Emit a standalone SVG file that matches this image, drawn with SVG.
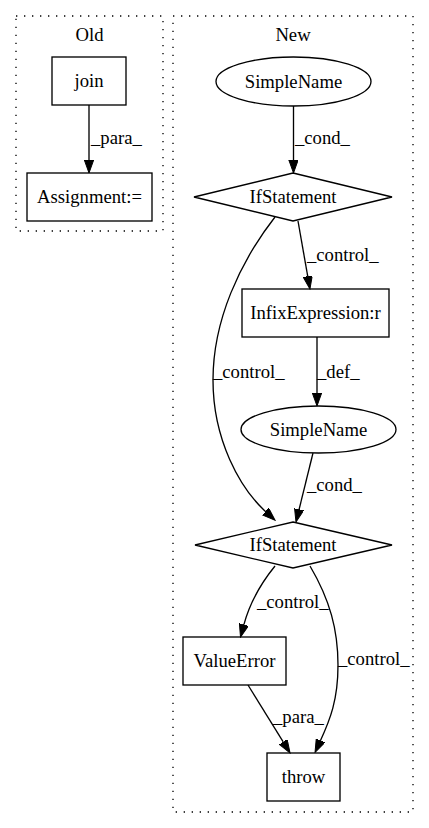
<svg xmlns="http://www.w3.org/2000/svg" width="429" height="828" viewBox="0 0 429 828">
<style>
text{font-family:"Liberation Serif","Times New Roman",serif;font-size:18.67px;fill:#000}
.n{text-anchor:middle}
.shape{fill:none;stroke:#000;stroke-width:1.33}
.cl{fill:none;stroke:#000;stroke-width:1.33;stroke-dasharray:1.33,6.67}
.e{fill:none;stroke:#000;stroke-width:1.33;marker-end:url(#arr)}
</style>
<defs>
<marker id="arr" markerUnits="userSpaceOnUse" markerWidth="14" markerHeight="10" viewBox="0 0 14 10" refX="0" refY="4.67" orient="auto">
<path d="M0,0 L13,4.67 L0,9.33 z" fill="#000" stroke="#000" stroke-width="1"/>
</marker>
</defs>
<rect width="429" height="828" fill="#fff"/>
<g id="cluster_old">
<rect class="cl" x="16" y="16" width="147" height="215"/>
<text class="n" x="89.5" y="41">Old</text>
</g>
<g id="cluster_new">
<rect class="cl" x="173" y="16" width="240" height="796"/>
<text class="n" x="293" y="41">New</text>
</g>
<g id="edges">
<path class="e" d="M89,105 L89,160"/>
<path class="e" d="M293.5,106 L293.5,160"/>
<path class="e" d="M298,221 L307.7,276.2"/>
<path class="e" d="M317,337 L317,393"/>
<path class="e" d="M313,453 L299.1,509.4"/>
<path class="e" d="M275,217 C240,262 213,320 213,380 C213,440 240,488 265.5,511.5"/>
<path class="e" d="M275,566 C262,582 250,602 243.9,624.6"/>
<path class="e" d="M248,685 L283.2,741.9"/>
<path class="e" d="M310,566 C330,600 338,630 338,665 C338,700 330,720 320.5,740.5"/>
<text x="91" y="144">_para_</text>
<text x="295" y="144">_cond_</text>
<text x="307" y="261">_control_</text>
<text x="317" y="378">_def_</text>
<text x="213" y="378">_control_</text>
<text x="307" y="491">_cond_</text>
<text x="257" y="608">_control_</text>
<text x="338" y="665">_control_</text>
<text x="273" y="723">_para_</text>
</g>
<g id="join">
<rect class="shape" x="52" y="57" width="74" height="48"/>
<text class="n" x="89" y="87">join</text>
</g>
<g id="assignment">
<rect class="shape" x="27" y="173" width="125" height="48"/>
<text class="n" x="89.5" y="203">Assignment:=</text>
</g>
<g id="simplename1">
<ellipse class="shape" cx="293.5" cy="81.5" rx="77.5" ry="24.5"/>
<text class="n" x="293.5" y="88">SimpleName</text>
</g>
<g id="ifstatement1">
<polygon class="shape" points="293,173 392,197 293,221 194,197"/>
<text class="n" x="293" y="203">IfStatement</text>
</g>
<g id="infix">
<rect class="shape" x="242" y="289" width="147" height="48"/>
<text class="n" x="315.5" y="319">InfixExpression:r</text>
</g>
<g id="simplename2">
<ellipse class="shape" cx="318.5" cy="429.5" rx="77.5" ry="23.5"/>
<text class="n" x="318.5" y="436">SimpleName</text>
</g>
<g id="ifstatement2">
<polygon class="shape" points="293,522 392,545 293,568 195,545"/>
<text class="n" x="293" y="551">IfStatement</text>
</g>
<g id="valueerror">
<rect class="shape" x="183" y="637" width="103" height="48"/>
<text class="n" x="234.5" y="667">ValueError</text>
</g>
<g id="throw">
<rect class="shape" x="267" y="753" width="73" height="48"/>
<text class="n" x="303.5" y="783">throw</text>
</g>
</svg>
